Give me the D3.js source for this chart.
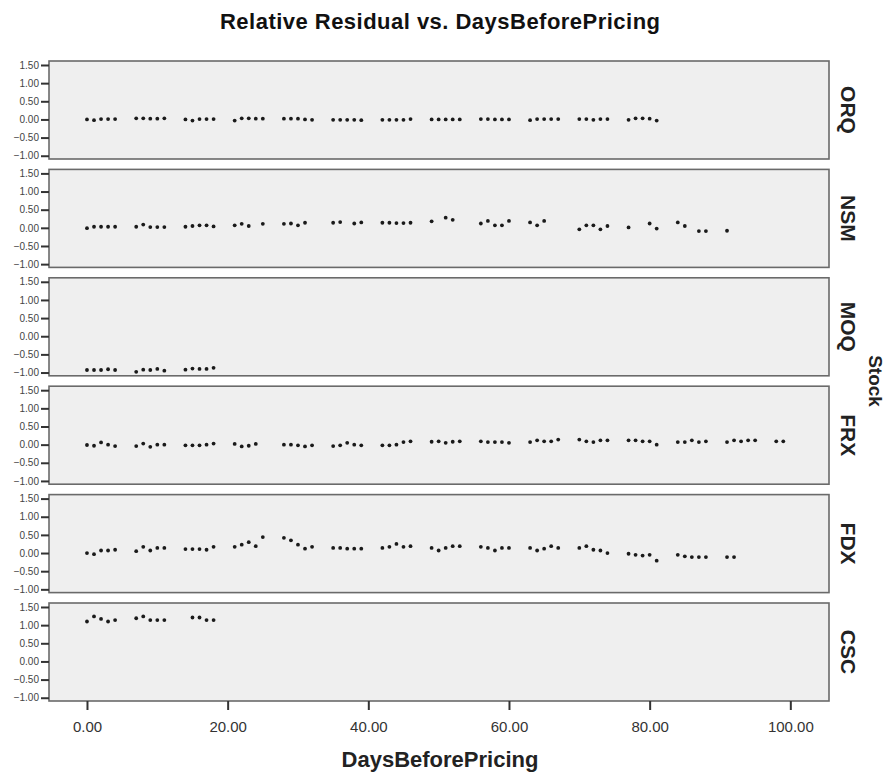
<!DOCTYPE html>
<html>
<head>
<meta charset="utf-8">
<script src="https://cdn.jsdelivr.net/npm/d3@7/dist/d3.min.js"></script>
<style>
  body { margin: 0; background: #fff; }
  text { font-family: "Liberation Sans", Arial, sans-serif; }
</style>
</head>
<body>
<svg id="chart" width="893" height="772"></svg>
<script>
// Relative Residual vs. DaysBeforePricing -- one panel per stock

var stocks = ["ORQ", "NSM", "MOQ", "FRX", "FDX", "CSC"];

var orqDays = [0,1,2,3,4, 7,8,9,10,11, 14,15,16,17,18, 21,22,23,24,25, 28,29,30,31,32,
  35,36,37,38,39, 42,43,44,45,46, 49,50,51,52,53, 56,57,58,59,60, 63,64,65,66,67,
  70,71,72,73,74, 77,78,79,80,81];
var orqResid = [0.00,-0.02,0.01,0.01,0.01, 0.03,0.03,0.02,0.02,0.03, 0.00,-0.03,0.01,0.01,0.01,
  -0.03,0.03,0.03,0.02,0.02, 0.02,0.02,0.02,0.00,-0.01, -0.01,-0.01,-0.01,-0.01,-0.02,
  -0.01,-0.01,-0.01,-0.01,0.01, 0.00,0.00,0.00,0.00,0.00, 0.01,0.01,0.00,0.00,0.00,
  -0.02,0.01,0.01,0.01,0.01, 0.01,0.01,-0.01,0.01,0.01, -0.01,0.03,0.03,0.02,-0.03];

var nsmDays = [0,1,2,3,4, 7,8,9,10,11, 14,15,16,17,18, 21,22,23,25, 28,29,30,31,
  35,36,38,39, 42,43,44,45,46, 49,51,52, 56,57,58,59,60, 63,64,65,
  70,71,72,73,74, 77, 80,81, 84,85, 87,88, 91];
var nsmResid = [-0.01,0.03,0.03,0.03,0.03, 0.03,0.09,0.02,0.02,0.02, 0.03,0.05,0.07,0.07,0.04,
  0.07,0.11,0.05,0.11, 0.11,0.12,0.07,0.14, 0.14,0.16,0.12,0.15, 0.14,0.14,0.13,0.13,0.14,
  0.18,0.28,0.22, 0.12,0.19,0.07,0.07,0.19, 0.15,0.07,0.19,
  -0.04,0.07,0.07,-0.04,0.05, 0.01, 0.12,-0.02, 0.15,0.05, -0.09,-0.09, -0.08];

var moqDays = [0,1,2,3,4, 7,8,9,10,11, 14,15,16,17,18];
var moqResid = [-0.93,-0.93,-0.93,-0.91,-0.93, -0.98,-0.92,-0.93,-0.90,-0.95,
  -0.92,-0.89,-0.90,-0.90,-0.87];

var frxDays = [0,1,2,3,4, 7,8,9,10,11, 14,15,16,17,18, 21,22,23,24, 28,29,30,31,32,
  35,36,37,38,39, 42,43,44,45,46, 49,50,51,52,53, 56,57,58,59,60, 63,64,65,66,67,
  70,71,72,73,74, 77,78,79,80,81, 84,85,86,87,88, 91,92,93,94,95, 98,99];
var frxResid = [-0.01,-0.03,0.06,0.00,-0.04, -0.04,0.03,-0.06,0.00,0.00, -0.02,-0.02,-0.02,0.00,0.03,
  0.02,-0.05,-0.03,0.02, 0.00,0.00,-0.02,-0.05,-0.02, -0.04,-0.02,0.05,0.00,-0.02,
  -0.02,-0.02,0.00,0.07,0.09, 0.08,0.09,0.05,0.08,0.09, 0.09,0.07,0.07,0.07,0.05,
  0.07,0.12,0.09,0.09,0.14, 0.14,0.09,0.07,0.12,0.12, 0.12,0.12,0.09,0.09,0.00,
  0.07,0.07,0.12,0.07,0.09, 0.07,0.12,0.09,0.12,0.12, 0.09,0.09];

var fdxDays = [0,1,2,3,4, 7,8,9,10,11, 14,15,16,17,18, 21,22,23,24,25, 28,29,30,31,32,
  35,36,37,38,39, 42,43,44,45,46, 49,50,51,52,53, 56,57,58,59,60, 63,64,65,66,67,
  70,71,72,73,74, 77,78,79,80,81, 84,85,86,87,88, 91,92];
var fdxResid = [0.00,-0.03,0.07,0.07,0.09, 0.05,0.17,0.07,0.14,0.14, 0.11,0.11,0.11,0.09,0.17,
  0.17,0.23,0.30,0.19,0.44, 0.42,0.35,0.23,0.12,0.17, 0.14,0.14,0.12,0.12,0.12,
  0.14,0.17,0.25,0.17,0.19, 0.14,0.07,0.14,0.19,0.19, 0.17,0.14,0.07,0.14,0.14,
  0.14,0.07,0.12,0.19,0.14, 0.14,0.19,0.09,0.07,0.00, -0.02,-0.05,-0.07,-0.05,-0.21,
  -0.05,-0.09,-0.11,-0.11,-0.11, -0.11,-0.11];

var cscDays = [0,1,2,3,4, 7,8,9,10,11, 15,16,17,18];
var cscResid = [1.10,1.24,1.17,1.10,1.14, 1.19,1.24,1.14,1.14,1.14, 1.21,1.21,1.14,1.14];

var dayLists = [orqDays, nsmDays, moqDays, frxDays, fdxDays, cscDays];
var residLists = [orqResid, nsmResid, moqResid, frxResid, fdxResid, cscResid];

var yTicks = [1.5, 1.0, 0.5, 0.0, -0.5, -1.0];
var xTicks = [0, 20, 40, 60, 80, 100];

// layout
var left = 49, right = 829, top0 = 61, step = 108.4, panelH = 98;

var svg = d3.select("#chart");

var x = d3.scaleLinear().domain([-5.4, 105.5]).range([left, right]);
var y = d3.scaleLinear().domain([-1.09, 1.61]).range([panelH, 0]);
var fmt = d3.format(".2f");

svg.append("text")
  .attr("x", 440).attr("y", 29)
  .attr("text-anchor", "middle")
  .attr("font-size", 22).attr("font-weight", "bold")
  .attr("fill", "#111")
  .attr("textLength", 440).attr("lengthAdjust", "spacing")
  .text("Relative Residual vs. DaysBeforePricing");

stocks.forEach(function (name, i) {
  var g = svg.append("g").attr("transform", "translate(0," + (top0 + i * step) + ")");

  g.append("rect")
    .attr("x", left).attr("y", 0)
    .attr("width", right - left).attr("height", panelH)
    .attr("fill", "#efefef")
    .attr("stroke", "#6a6a6a")
    .attr("stroke-width", 1.6);

  // y axis ticks on the left edge
  var yAxis = d3.axisLeft(y).tickValues(yTicks).tickFormat(fmt).tickSize(8).tickPadding(2);
  var ya = g.append("g").attr("transform", "translate(" + left + ",0)").call(yAxis);
  ya.select(".domain").remove();
  ya.selectAll(".tick line").attr("stroke", "#333").attr("stroke-width", 2);
  ya.selectAll(".tick text")
    .attr("font-family", "'Liberation Sans', Arial, sans-serif")
    .attr("font-size", 10).attr("fill", "#444");

  var days = dayLists[i], resid = residLists[i];
  g.selectAll("circle.pt")
    .data(days)
    .enter().append("circle")
    .attr("class", "pt")
    .attr("cx", function (d) { return x(d); })
    .attr("cy", function (d, j) { return y(resid[j]); })
    .attr("r", 1.9)
    .attr("fill", "#1a1a1a");

  g.append("text")
    .attr("transform", "translate(841," + (panelH / 2) + ") rotate(90)")
    .attr("text-anchor", "middle")
    .attr("font-size", 21).attr("font-weight", "bold")
    .attr("fill", "#222")
    .text(name);
});

// x axis under the last panel
var bottom = top0 + 5 * step + panelH;
var xAxis = d3.axisBottom(x).tickValues(xTicks).tickFormat(fmt).tickSize(9).tickPadding(11);
var xa = svg.append("g").attr("transform", "translate(0," + bottom + ")").call(xAxis);
xa.select(".domain").remove();
xa.selectAll(".tick line").attr("stroke", "#333").attr("stroke-width", 2);
xa.selectAll(".tick text")
  .attr("font-family", "'Liberation Sans', Arial, sans-serif")
  .attr("font-size", 15).attr("fill", "#333");

svg.append("text")
  .attr("x", 440).attr("y", 767)
  .attr("text-anchor", "middle")
  .attr("font-size", 22).attr("font-weight", "bold")
  .attr("fill", "#222")
  .text("DaysBeforePricing");

svg.append("text")
  .attr("transform", "translate(869," + (top0 + (5 * step + panelH) / 2) + ") rotate(90)")
  .attr("text-anchor", "middle")
  .attr("font-size", 19).attr("font-weight", "bold")
  .attr("fill", "#222")
  .text("Stock");
</script>
</body>
</html>
